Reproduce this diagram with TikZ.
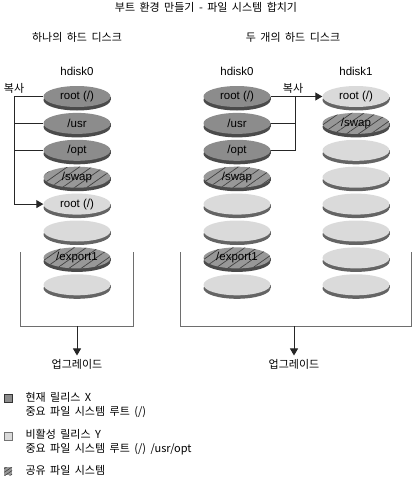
\documentclass[tikz,border=0pt]{standalone}
\usepackage{fontspec}
\setmainfont{Liberation Sans}
\newfontfamily\kr[WordSpace=1.8]{Noto Sans CJK KR}
\usetikzlibrary{patterns.meta,arrows.meta}

\definecolor{curface}{RGB}{140,140,140}
\definecolor{currim}{RGB}{75,75,75}
\definecolor{inface}{RGB}{218,218,218}
\definecolor{inrim}{RGB}{100,100,100}
\definecolor{shface}{RGB}{152,152,152}
\definecolor{shline}{RGB}{65,65,65}
\definecolor{wall}{RGB}{110,110,110}

\tikzset{
  disk/.style={minimum width=67pt, minimum height=21pt, inner sep=0pt,
    font=\fontsize{11.5}{13}\selectfont},
  hatch/.style={pattern={Lines[angle=35,distance=7pt,line width=0.7pt]}, pattern color=shline},
  copyline/.style={line width=1pt, black!85},
  tip/.style={-{Triangle[length=7pt,width=8pt]}},
  label/.style={font=\kr\fontsize{11}{13}\selectfont},
  key/.style={minimum size=8pt, inner sep=0pt, draw=black!80, line width=0.6pt}
}

% \platter{name}{x}{y}{face}{rim}{text}
\newcommand\platter[6]{
  \fill[#5] (#2-33.5,#3) rectangle (#2+33.5,#3+3.5);
  \fill[#5] (#2,#3+3.5) ellipse [x radius=33.5pt, y radius=10.5pt];
  \fill[#4] (#2,#3) ellipse [x radius=33.5pt, y radius=10.5pt];
  \node[disk] (#1) at (#2,#3) {#6};
}
% hatched platter
\newcommand\swapplatter[4]{
  \platter{#1}{#2}{#3}{shface}{currim}{}
  \fill[hatch] (#2,#3) ellipse [x radius=33.5pt, y radius=10.5pt];
  \node[disk] at (#2,#3) {#4};
}

\begin{document}
\begin{tikzpicture}[x=1pt,y=-1pt]
  \useasboundingbox (0,0) rectangle (413,479);

  % titles
  \node[label] (title) at (206,7) {부트 환경 만들기 - 파일 시스템 합치기};
  \node[label] (one) at (77,37) {하나의 하드 디스크};
  \node[label] (two) at (293,37) {두 개의 하드 디스크};
  \node[font=\fontsize{11.5}{13}\selectfont] (h0a) at (77,71) {hdisk0};
  \node[font=\fontsize{11.5}{13}\selectfont] (h0b) at (237,71) {hdisk0};
  \node[font=\fontsize{11.5}{13}\selectfont] (h1) at (356,71) {hdisk1};

  % one disk
  \platter{l1}{77}{96.5}{curface}{currim}{root (/)}
  \platter{l2}{77}{123.4}{curface}{currim}{/usr}
  \platter{l3}{77}{150.3}{curface}{currim}{/opt}
  \swapplatter{l4}{77}{177.2}{/swap}
  \platter{l5}{77}{204.1}{inface}{inrim}{root (/)}
  \platter{l6}{77}{231}{inface}{inrim}{}
  \swapplatter{l7}{77}{257.9}{/export1}
  \platter{l8}{77}{284.8}{inface}{inrim}{}

  % two disks: hdisk0
  \platter{a1}{237}{96.5}{curface}{currim}{root (/)}
  \platter{a2}{237}{123.4}{curface}{currim}{/usr}
  \platter{a3}{237}{150.3}{curface}{currim}{/opt}
  \swapplatter{a4}{237}{177.2}{/swap}
  \platter{a5}{237}{204.1}{inface}{inrim}{}
  \platter{a6}{237}{231}{inface}{inrim}{}
  \swapplatter{a7}{237}{257.9}{/export1}
  \platter{a8}{237}{284.8}{inface}{inrim}{}

  % two disks: hdisk1
  \platter{b1}{356}{96.5}{inface}{inrim}{root (/)}
  \swapplatter{b2}{356}{123.4}{/swap}
  \foreach \i/\y in {3/150.3,4/177.2,5/204.1,6/231,7/257.9,8/284.8}{
    \platter{b\i}{356}{\y}{inface}{inrim}{}
  }

  % copy, one disk
  \coordinate (lc) at (14,96.5);
  \node[label] (lcopy) at (14,88) {복사};
  \draw[copyline,tip] (l1.west) -- (lc) |- (l5.west);
  \draw[copyline] (l2.west) -- (l2.west -| lc);
  \draw[copyline] (l3.west) -- (l3.west -| lc);

  % copy, two disks
  \coordinate (rc) at (295,96.5);
  \node[label] (rcopy) at (293,88) {복사};
  \draw[copyline,tip] (a1.east) -- (b1.west);
  \draw[copyline] (a2.east) -| (rc);
  \draw[copyline] (a3.east) -| (rc);

  % upgrade
  \coordinate (lb) at (77,326);
  \coordinate (rb) at (294,326);
  \node[label] (lup) at (77,364) {업그레이드};
  \node[label] (rup) at (294,364) {업그레이드};
  \draw[wall, line width=1pt] (20,252) -- (20,326) -- (133,326) -- (133,252);
  \draw[wall, line width=1pt] (180,252) -- (180,326) -- (411.5,326) -- (411.5,252);
  \draw[copyline,tip] (lb) -- (lup.north);
  \draw[copyline,tip] (rb) -- (rup.north);

  % legend
  \node[key, fill=curface] (k1) at (8,398) {};
  \node[key, fill=inface, draw=black!55] (k2) at (8,436) {};
  \node[key, fill=shface, draw=none,
    postaction={pattern={Lines[angle=35,distance=3pt,line width=0.6pt]}, pattern color=shline}] (k3) at (8,471) {};
  \node[label, anchor=west, align=left] (t1) at (22,405) {현재 릴리스 X\\[1pt]중요 파일 시스템 루트 (/)};
  \node[label, anchor=west, align=left] (t2) at (22,442) {비활성 릴리스 Y\\[1pt]중요 파일 시스템 루트 (/) /usr/opt};
  \node[label, anchor=west] (t3) at (22,470) {공유 파일 시스템};
\end{tikzpicture}
\end{document}
